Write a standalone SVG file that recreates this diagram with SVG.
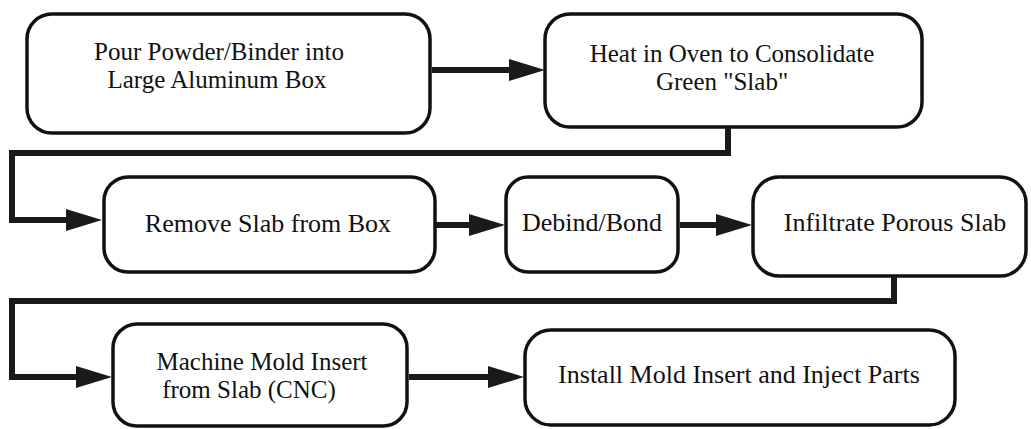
<svg xmlns="http://www.w3.org/2000/svg" width="1031" height="429" viewBox="0 0 1031 429">
  <style>
    .box { fill: #ffffff; stroke: #111111; stroke-width: 3.5; }
    .lbl { font-family: 'Liberation Serif', serif; font-size: 26px; fill: #111111; text-anchor: middle; }
    .two { font-size: 25px; }
    .wire { fill: none; stroke: #1a1a1a; stroke-width: 6; stroke-linejoin: miter; }
  </style>
  <defs>
    <marker id="head" markerUnits="userSpaceOnUse" markerWidth="40" markerHeight="24" refX="6" refY="11" orient="auto">
      <path d="M0,0 L36,11 L0,22 Z" fill="#1a1a1a"/>
    </marker>
  </defs>

  <!-- process steps -->
  <g id="pour">
    <rect class="box" x="27" y="14" width="403" height="119" rx="25"/>
    <text class="lbl two" x="219" y="60">Pour Powder/Binder into</text>
    <text class="lbl two" x="217" y="88">Large Aluminum Box</text>
  </g>
  <g id="heat">
    <rect class="box" x="545" y="14" width="377" height="113" rx="25"/>
    <text class="lbl two" x="732" y="62">Heat in Oven to Consolidate</text>
    <text class="lbl two" x="722" y="90">Green "Slab"</text>
  </g>
  <g id="remove">
    <rect class="box" x="104" y="177" width="331" height="95" rx="24"/>
    <text class="lbl" x="268" y="232">Remove Slab from Box</text>
  </g>
  <g id="debind">
    <rect class="box" x="506" y="177" width="172" height="95" rx="22"/>
    <text class="lbl" x="592" y="231">Debind/Bond</text>
  </g>
  <g id="infiltrate">
    <rect class="box" x="753" y="177" width="273" height="99" rx="26"/>
    <text class="lbl" x="895" y="231">Infiltrate Porous Slab</text>
  </g>
  <g id="machine">
    <rect class="box" x="113" y="324" width="294" height="102" rx="24"/>
    <text class="lbl two" x="262" y="370">Machine Mold Insert</text>
    <text class="lbl two" x="249" y="398">from Slab (CNC)</text>
  </g>
  <g id="install">
    <rect class="box" x="525" y="330" width="430" height="95" rx="26"/>
    <text class="lbl" x="739" y="383">Install Mold Insert and Inject Parts</text>
  </g>

  <!-- connectors -->
  <g id="connectors">
    <path class="wire" d="M432,70 H515" marker-end="url(#head)"/>
    <path class="wire" d="M728,128 V153 H12 V220 H72" marker-end="url(#head)"/>
    <path class="wire" d="M436,225 H475" marker-end="url(#head)"/>
    <path class="wire" d="M680,225 H722" marker-end="url(#head)"/>
    <path class="wire" d="M894,277 V301 H12 V377 H82" marker-end="url(#head)"/>
    <path class="wire" d="M409,377 H494" marker-end="url(#head)"/>
  </g>
</svg>
